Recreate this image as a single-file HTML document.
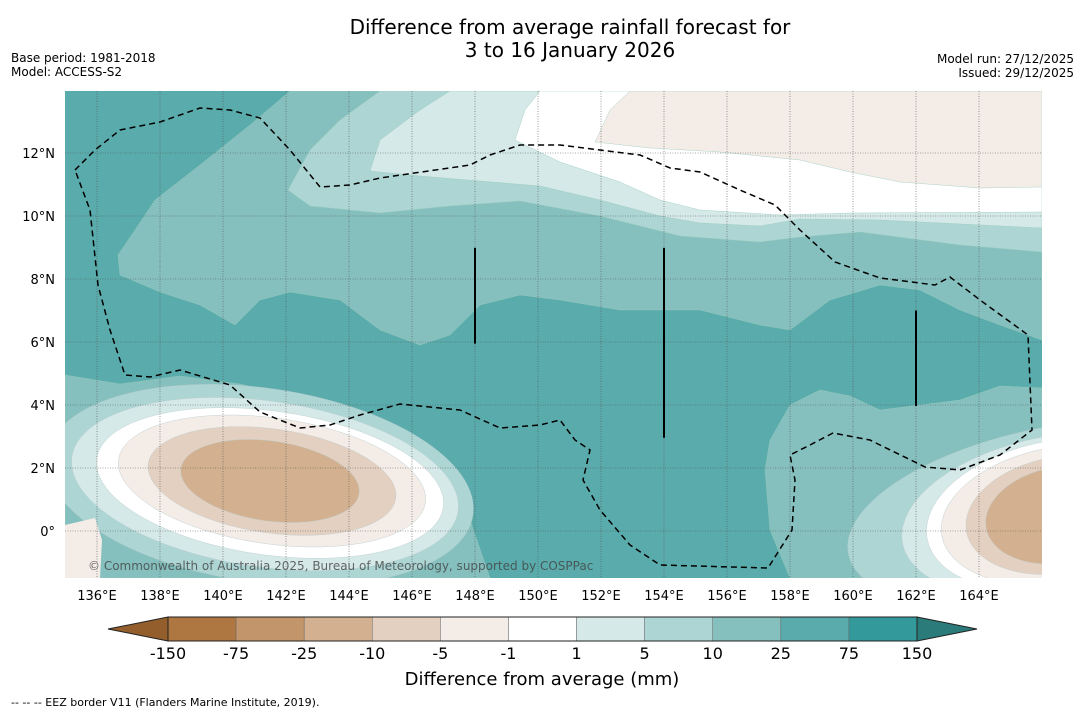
<!DOCTYPE html>
<html><head><meta charset="utf-8"><style>
body{margin:0;width:1085px;height:713px;background:#fff;overflow:hidden;font-family:"DejaVu Sans","Liberation Sans",sans-serif;}
</style></head><body>
<svg id="s" width="1085" height="713" xmlns="http://www.w3.org/2000/svg">
<text x="570" y="34" font-size="20" text-anchor="middle">Difference from average rainfall forecast for</text>
<text x="570" y="57" font-size="20" text-anchor="middle">3 to 16 January 2026</text>
<text x="11" y="62" font-size="12">Base period: 1981-2018</text>
<text x="11" y="76" font-size="12">Model: ACCESS-S2</text>
<text x="1074" y="63" font-size="12" text-anchor="end">Model run: 27/12/2025</text>
<text x="1074" y="77" font-size="12" text-anchor="end">Issued: 29/12/2025</text>
<defs><clipPath id="mc"><rect x="65" y="91" width="977" height="487"/></clipPath></defs>
<g id="map" clip-path="url(#mc)"></g>
<g id="axes"></g>
<g id="cbar"></g>
<text x="542" y="685" font-size="18" text-anchor="middle">Difference from average (mm)</text>
<text x="11" y="706" font-size="11">--  --  -- EEZ border V11 (Flanders Marine Institute, 2019).</text>
</svg>
<script>
const levels=[-150,-75,-25,-10,-5,-1,1,5,10,25,75,150];
const colors=['#ae7741','#c2956a','#d3b190','#e4d0c0','#f4ece7','#ffffff','#d5e9e8','#acd5d4','#85c0bf','#5aabab','#33999a'];
const lonTicks=[136,138,140,142,144,146,148,150,152,154,156,158,160,162,164];
const latTicks=[0,2,4,6,8,10,12];
const X=lon=>97+(lon-136)*31.5, Y=lat=>531-lat*31.5;
const NS='http://www.w3.org/2000/svg';
function mk(tag,attrs,parent){const e=document.createElementNS(NS,tag);for(const k in attrs)e.setAttribute(k,attrs[k]);parent.appendChild(e);return e;}
const map=document.getElementById('map'),axes=document.getElementById('axes'),cb=document.getElementById('cbar');
// digitized contour polygons (pixel space) : [color, points]
const polys=[
['#85c0bf',[[290,91],[1042,91],[1042,340],[1000,325],[960,310],[920,290],[880,285],[830,300],[790,330],[760,325],[700,310],[620,310],[560,300],[520,295],[480,305],[450,335],[420,345],[380,330],[340,300],[290,292],[260,300],[235,325],[200,305],[160,292],[120,275],[118,255],[135,230],[155,200],[200,165],[250,125]]],
['#acd5d4',[[380,91],[1042,91],[1042,252],[960,245],[860,232],[800,237],[760,242],[680,236],[600,216],[520,201],[450,206],[380,213],[310,206],[288,190],[310,150],[340,120]]],
['#d5e9e8',[[450,91],[1042,91],[1042,228],[880,220],[800,219],[760,226],[700,223],[660,216],[600,200],[540,186],[480,181],[420,176],[370,171],[380,140],[420,110]]],
['#ffffff',[[540,91],[1042,91],[1042,212],[850,213],[780,215],[700,210],[660,200],[620,182],[560,162],[515,140],[525,110]]],
['#f4ece7',[[630,91],[1042,91],[1042,187],[980,188],[900,182],[850,172],[800,160],[720,152],[650,148],[595,142],[610,110]]],
['#85c0bf',[[1042,388],[1000,386],[960,400],[920,405],[880,410],[850,396],[820,390],[790,405],[770,440],[765,470],[770,530],[790,578],[1042,578]]],
['#85c0bf',[[65,375],[120,384],[180,376],[240,384],[300,398],[360,412],[410,438],[450,478],[470,520],[490,578],[65,578]]]
];
// ellipses: [color,cx,cy,rx,ry,rot] (pixel space)
const blobs=[
['#acd5d4',260,485,215,97,8],['#d5e9e8',265,484,195,83,8],['#ffffff',270,483,175,72,8],['#f4ece7',272,481,155,63,8],
['#e4d0c0',272,481,125,52,8],['#d3b190',270,481,90,40,8],
['#acd5d4',1065,515,220,90,-10],['#d5e9e8',1060,515,160,80,-10],['#ffffff',1060,515,135,75,-10],['#f4ece7',1060,515,120,68,-10],['#e4d0c0',1060,515,95,58,-10],['#d3b190',1060,515,75,48,-10]
];
mk('rect',{x:65,y:91,width:977,height:487,fill:'#5aabab'},map);
polys.forEach((p,i)=>{const e=mk('polygon',{points:p[1].map(q=>q.join(',')).join(' '),fill:p[0],stroke:'#9cb',"stroke-width":0.4},map);

});
blobs.forEach((b,i)=>{const e=mk('ellipse',{cx:b[1],cy:b[2],rx:b[3],ry:b[4],transform:`rotate(${b[5]} ${b[1]} ${b[2]})`,fill:b[0],stroke:'#bcc',"stroke-width":0.4},map);

});
// corner beige
const cn=mk('polygon',{points:'65,525 95,518 102,540 100,578 65,578',fill:'#f4ece7'},map);


// gridlines
lonTicks.forEach(l=>{const e=mk('line',{x1:X(l),x2:X(l),y1:91,y2:578,stroke:'#555',"stroke-width":0.6,"stroke-dasharray":'1,1.5'},map);

});
latTicks.forEach(l=>{const e=mk('line',{x1:65,x2:1042,y1:Y(l),y2:Y(l),stroke:'#555',"stroke-width":0.6,"stroke-dasharray":'1,1.5'},map);

});
// EEZ
const eez=[[75,170],[95,150],[120,130],[160,122],[200,108],[230,110],[260,118],[290,150],[320,187],[350,185],[380,178],[470,165],[490,155],[520,145],[560,145],[600,150],[640,155],[670,168],[700,172],[740,190],[775,205],[800,230],[835,262],[880,278],[935,285],[950,277],[980,300],[1028,335],[1032,430],[1000,455],[960,470],[925,467],[880,445],[870,440],[833,433],[810,445],[790,455],[795,480],[792,530],[768,568],[660,565],[630,545],[600,510],[583,480],[590,450],[575,440],[560,420],[540,425],[500,428],[460,410],[400,404],[360,415],[330,425],[300,428],[260,412],[230,385],[180,370],[150,377],[125,375],[110,330],[98,285],[90,210],[75,170]];
const ez=mk('polyline',{points:eez.map(q=>q.join(',')).join(' '),fill:'none',stroke:'#000',"stroke-width":1.5,"stroke-dasharray":'6,4'},map);


[[148,8.99,5.95],[154,8.99,2.96],[162,7,3.97]].forEach((v,i)=>{const e=mk('line',{x1:X(v[0]),x2:X(v[0]),y1:Y(v[1]),y2:Y(v[2]),stroke:'#000',"stroke-width":2},map);

});
const cr=mk('text',{x:88,y:570,"font-size":12,fill:'#444',opacity:0.8},map);cr.textContent='© Commonwealth of Australia 2025, Bureau of Meteorology, supported by COSPPac';


// axis labels
lonTicks.forEach(l=>{const t=mk('text',{x:X(l),y:600,"font-size":13,"text-anchor":'middle'},axes);t.textContent=l+'°E';

});
latTicks.forEach(l=>{const t=mk('text',{x:55,y:Y(l)+5,"font-size":13,"text-anchor":'end'},axes);t.textContent=l===0?'0°':l+'°N';

});
// colorbar
const cx0=168,cw=(917-168)/colors.length,cy=617,ch=24;
mk('polygon',{points:`108,${cy+ch/2} ${cx0},${cy} ${cx0},${cy+ch}`,fill:'#935e2b',stroke:'#222'},cb);
mk('polygon',{points:`977,${cy+ch/2} 917,${cy} 917,${cy+ch}`,fill:'#2a7b79',stroke:'#222'},cb);
colors.forEach((c,i)=>{const r=mk('rect',{x:cx0+i*cw,y:cy,width:cw,height:ch,fill:c,stroke:'#666',"stroke-width":0.5},cb);

});
mk('rect',{x:cx0,y:cy,width:917-cx0,height:ch,fill:'none',stroke:'#222',"stroke-width":1},cb);
levels.forEach((v,i)=>{const t=mk('text',{x:cx0+i*cw,y:659,"font-size":16,"text-anchor":'middle'},cb);t.textContent=v;

});
</script>
</body></html>
